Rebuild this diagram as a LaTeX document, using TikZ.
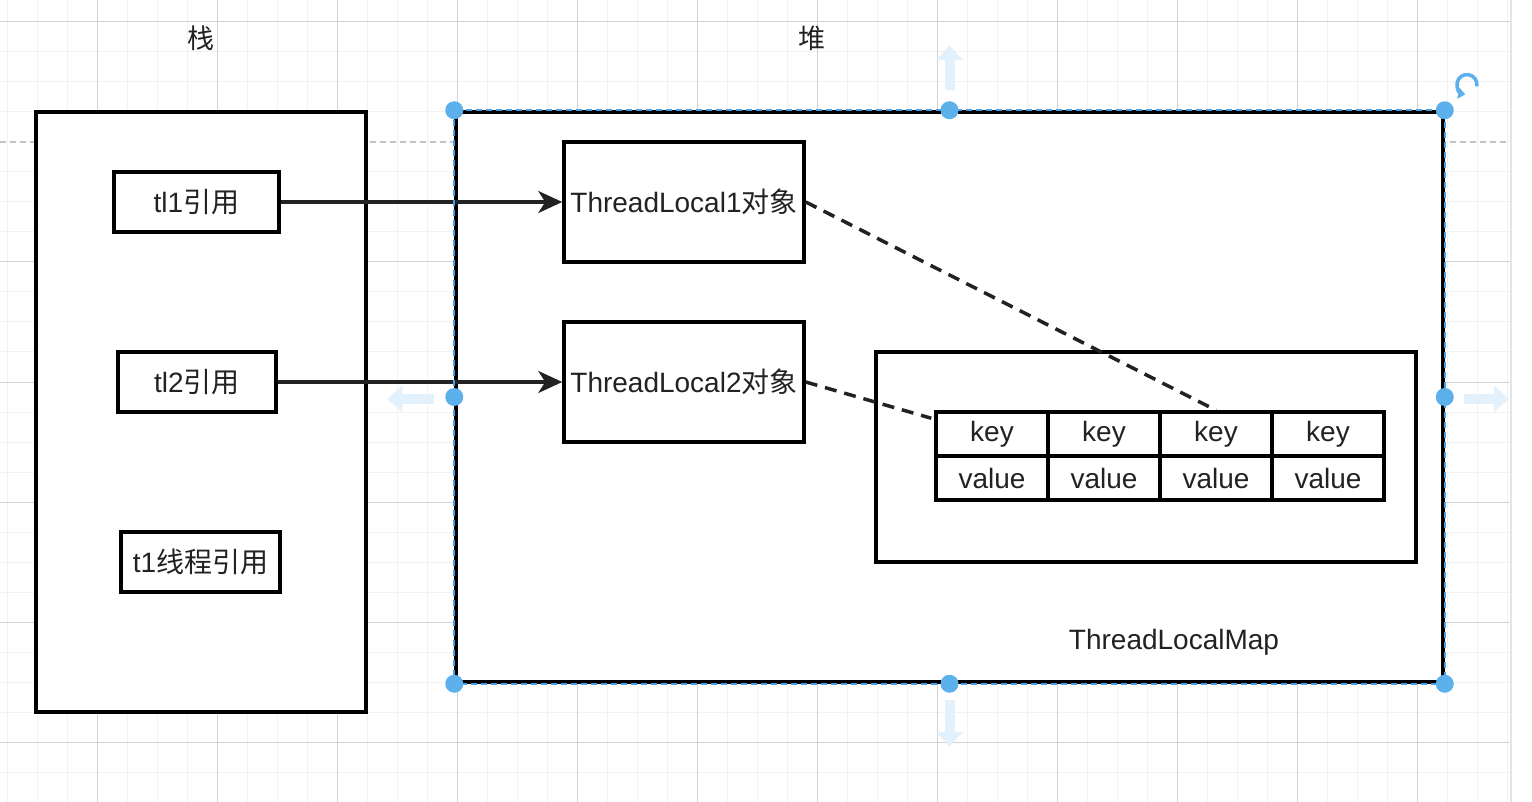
\documentclass[tikz,border=0pt]{standalone}
\usepackage{fontspec}
\setmainfont{Liberation Sans}
\newfontfamily\cjk{Noto Sans CJK SC}
\usepackage{xcolor}
\definecolor{inkgray}{RGB}{34,34,34}
\definecolor{gridminor}{RGB}{242,242,242}
\definecolor{gridmajor}{RGB}{210,210,210}
\definecolor{pagebreak}{RGB}{195,195,195}
\definecolor{selblue}{RGB}{74,158,230}
\definecolor{handleblue}{RGB}{92,176,236}
\definecolor{hintblue}{RGB}{226,241,251}
\usetikzlibrary{arrows.meta, positioning, calc}
\newcommand{\zh}[1]{{\cjk #1}}

\begin{document}
\begin{tikzpicture}[x=1pt, y=-1pt,
  box/.style={draw=black, fill=white, line width=3.5pt, inner sep=1pt,
              text=inkgray, font=\fontsize{28}{32}\selectfont},
  cell/.style={draw=black, fill=white, line width=3.5pt, minimum width=112pt,
               minimum height=44pt, inner sep=0pt, text=inkgray,
               font=\fontsize{28}{32}\selectfont},
  ref/.style={draw=inkgray, line width=3.2pt,
              -{Stealth[length=24pt, width=22pt, inset=7pt]}},
  link/.style={draw=inkgray, line width=3.5pt, dash pattern=on 12pt off 8pt},
  areatitle/.style={text=inkgray, font=\fontsize{27}{30}\selectfont},
  handle/.style={fill=handleblue},
  hint/.style={draw=hintblue, line width=10pt, -{Triangle[length=15pt, width=26pt]}}]

\useasboundingbox (0,0) rectangle (1532,802);
\fill[white] (0,0) rectangle (1532,802);

% ===== GRID (Background) =====
\foreach \gx in {7,37,...,1507}
  \draw[gridminor, line width=1pt] (\gx,0) -- (\gx,802);
\foreach \gy in {22,52,...,802}
  \draw[gridminor, line width=1pt] (0,\gy) -- (1510,\gy);
\foreach \gx in {97,217,...,1417}
  \draw[gridmajor, line width=1pt] (\gx,0) -- (\gx,802);
\foreach \gy in {22,262,382,502,622,742}
  \draw[gridmajor, line width=1pt] (0,\gy) -- (1510,\gy);
\draw[pagebreak, line width=1.2pt, dash pattern=on 6pt off 4pt] (0,142) -- (1510,142);
\fill[white] (1511,0) rectangle (1532,802);
\draw[gray!20, line width=2pt] (1511,0) -- (1511,802);

% ===== STACK (Left) =====
\node[areatitle] (stacktitle) at (201,38) {\zh{栈}};
\node[box, minimum width=330pt, minimum height=600pt] (stack) at (201,412) {};

\node[box, minimum width=165pt, minimum height=60pt] (tl1ref) at (196.5,202) {tl1\zh{引用}};
\node[box, minimum width=158pt, minimum height=60pt] (tl2ref) at (197,382) {tl2\zh{引用}};
\node[box, minimum width=159pt, minimum height=60pt] (t1ref) at (200.5,562) {t1\zh{线程引用}};

% ===== HEAP (Right) =====
\node[areatitle] (heaptitle) at (812,38) {\zh{堆}};
\node[box, minimum width=987pt, minimum height=570pt] (heap) at (949.5,397) {};

% ThreadLocal objects
\node[box, minimum width=240pt, minimum height=120pt] (tl1obj) at (684,202) {ThreadLocal1\zh{对象}};
\node[box, minimum width=240pt, minimum height=120pt] (tl2obj) at (684,382) {ThreadLocal2\zh{对象}};

% ThreadLocalMap with its entries
\node[box, minimum width=540pt, minimum height=210pt] (map) at (1146,457) {};
\foreach \i/\cx in {1/992, 2/1104, 3/1216, 4/1328} {
  \node[cell] (key\i) at (\cx,434) {key};
  \node[cell] (val\i) at (\cx,478) {value};
}
\node[areatitle, font=\fontsize{28}{32}\selectfont] (mapname) at (1174,642) {ThreadLocalMap};

% References
\draw[ref] (tl1ref) -- (tl1obj);
\draw[ref] (tl2ref) -- (tl2obj);

% Weak keys
\draw[link] (tl1obj.east) -- (key3.north);
\draw[link] (tl2obj.east) -- ($(key1.north west)+(-3,8)$);

% ===== SELECTION (Editor) =====
\draw[selblue, line width=2pt, dash pattern=on 6pt off 4pt]
  (heap.north west) rectangle (heap.south east);
\foreach \a in {north west, north, north east, east, south east, south, south west, west}
  \fill[handle] (heap.\a) circle (9pt);

\coordinate (uphint) at ($(heap.north)+(0,-20)$);
\coordinate (downhint) at ($(heap.south)+(0,16)$);
\coordinate (lefthint) at ($(heap.west)+(-20,2)$);
\coordinate (righthint) at ($(heap.east)+(19,2)$);
\draw[hint] (uphint) -- ++(0,-45);
\draw[hint] (downhint) -- ++(0,47);
\draw[hint] (lefthint) -- ++(-47,0);
\draw[hint] (righthint) -- ++(45,0);

\coordinate (rotator) at (1467,88);
\draw[handleblue, line width=3.5pt, -{Triangle[length=7pt, width=11pt]}]
  ($(rotator)+(9.8,-1.7)$) arc[start angle=-10, end angle=260, radius=10pt];

\end{tikzpicture}
\end{document}
